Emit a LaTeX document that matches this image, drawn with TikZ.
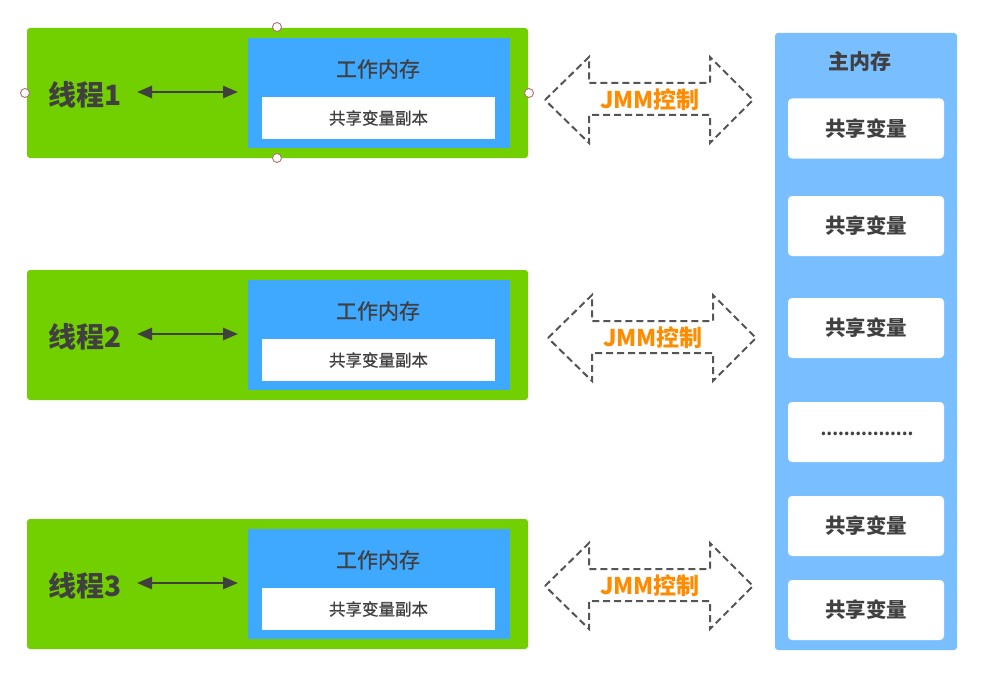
\documentclass[tikz,border=0pt]{standalone}
\usepackage{fontspec}
\setmainfont{Noto Sans CJK SC}
\newfontfamily\cjk{Noto Sans CJK SC}
\newfontfamily\cjkm{Noto Sans CJK SC}[FakeBold=0.8]
\usetikzlibrary{arrows.meta}
\definecolor{thrgreen}{HTML}{72D000}
\definecolor{wmblue}{HTML}{3FA9FF}
\definecolor{mainblue}{HTML}{79BFFF}
\definecolor{txtgray}{HTML}{404040}
\definecolor{jmmorange}{HTML}{FF8C00}
\definecolor{handle}{HTML}{B07070}
\definecolor{dashgray}{HTML}{555555}
\tikzset{
  thrbox/.style={fill=thrgreen, draw=none, rounded corners=3pt},
  wmbox/.style={fill=wmblue, draw=none},
  copybox/.style={fill=white, draw=none},
  varbox/.style={fill=white, draw=none, rounded corners=4pt},
  thrlabel/.style={text=txtgray, font=\cjk\bfseries\fontsize{28}{30}\selectfont},
  wmlabel/.style={text=txtgray, font=\cjkm\fontsize{21}{23}\selectfont},
  mainlabel/.style={text=txtgray, font=\cjk\bfseries\fontsize{21}{23}\selectfont},
  copylabel/.style={text=txtgray, font=\cjkm\fontsize{16.5}{18}\selectfont},
  varlabel/.style={text=txtgray, font=\cjk\bfseries\fontsize{20.5}{22}\selectfont},
  jmmlabel/.style={text=jmmorange, font=\cjk\bfseries\fontsize{23}{25}\selectfont},
  biarrow/.style={{Triangle[length=15pt,width=12pt]}-{Triangle[length=15pt,width=12pt]}, draw=txtgray, line width=2.5pt},
  jmmarrow/.style={draw=dashgray, line width=2pt, dash pattern=on 7pt off 4pt, line join=miter},
  handlept/.style={circle, fill=white, draw=handle, line width=0.9pt, minimum size=9pt, inner sep=0pt},
}
\begin{document}
\begin{tikzpicture}[x=1pt,y=-1pt]
\useasboundingbox (0,0) rectangle (998,674);
\fill[white] (0,0) rectangle (998,674);

% Threads
\foreach \i/\oy in {1/0, 2/242, 3/491}{
  \node[thrbox, minimum width=501pt, minimum height=130pt, inner sep=0pt] (thr\i) at (277.5, 93+\oy) {};
  \node[wmbox, minimum width=262pt, minimum height=110pt, inner sep=0pt] (wm\i) at (379, 93+\oy) {};
  \node[copybox, minimum width=233pt, minimum height=42pt, inner sep=0pt] (cp\i) at (378.5, 118+\oy) {};
  \node[copylabel] (cpt\i) at (378.5, 118+\oy) {共享变量副本};
  \node[wmlabel] (wmt\i) at (378, 69+\oy) {工作内存};
  \node[thrlabel] (t\i) at (85, 95+\oy) {线程\i};
  \coordinate (as\i) at (137, 92+\oy);
  \coordinate (ae\i) at (238, 92+\oy);
  \draw[biarrow] (as\i) -- (ae\i);
}

% selection handles on thread 1
\node[handlept] (h1) at (277,27) {};
\node[handlept] (h2) at (25,93) {};
\node[handlept] (h3) at (529,93) {};
\node[handlept] (h4) at (277,158) {};

% JMM arrows
\foreach \j/\cx/\cy in {1/649/100, 2/652/338, 3/649/586}{
  \draw[jmmarrow] (\cx-104,\cy) -- (\cx-60,\cy-43) -- (\cx-60,\cy-17) -- (\cx+61,\cy-17) -- (\cx+61,\cy-43) -- (\cx+104,\cy)
    -- (\cx+61,\cy+43) -- (\cx+61,\cy+15) -- (\cx-60,\cy+15) -- (\cx-60,\cy+43) -- cycle;
  \node[jmmlabel] (jmm\j) at (\cx+1,\cy) {JMM控制};
}

% Main memory
\node[fill=mainblue, draw=none, rounded corners=3pt, minimum width=182pt, minimum height=617pt, inner sep=0pt] (main) at (866,341.5) {};
\node[mainlabel] (maint) at (860,61) {主内存};
\foreach \k/\yc/\txt in {1/128.5/共享变量, 2/226/共享变量, 3/328/共享变量, 5/526/共享变量, 6/610/共享变量}{
  \node[varbox, minimum width=156pt, minimum height=60pt, inner sep=0pt] (v\k) at (866,\yc) {};
  \node[varlabel] (vt\k) at (866,\yc) {\txt};
}
\node[varbox, minimum width=156pt, minimum height=60pt, inner sep=0pt] (v4) at (866,432) {};
\node[text=txtgray, font=\cjk\bfseries\fontsize{16.5}{18}\selectfont] (vt4) at (867,434) {................};
\end{tikzpicture}
\end{document}
